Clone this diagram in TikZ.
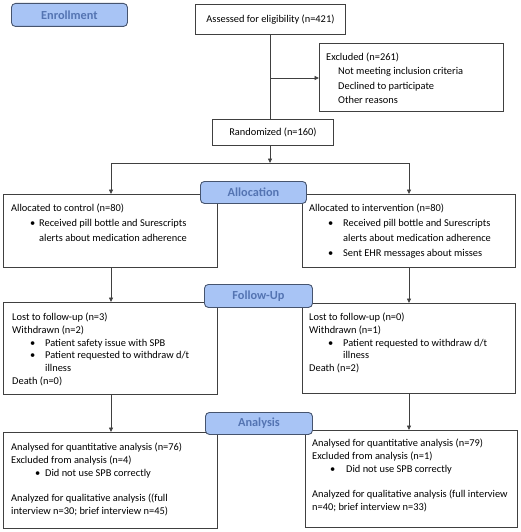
\documentclass[tikz,border=0pt]{standalone}
\usepackage{fontspec}
\setmainfont{Carlito}
\usetikzlibrary{arrows.meta}
\definecolor{lblfill}{RGB}{168,196,245}
\definecolor{lbltext}{RGB}{84,116,178}
\definecolor{lbldraw}{RGB}{70,84,110}
\definecolor{boxdraw}{RGB}{64,64,64}
\newcommand\bl[3]{\hspace*{#1}\makebox[#2][l]{\textbullet}#3}
\tikzset{
  box/.style={draw=boxdraw, line width=0.9pt, fill=white, inner sep=0pt, anchor=north west},
  stagelabel/.style={draw=lbldraw, fill=lblfill, rounded corners=4pt, line width=0.9pt,
    font=\bfseries\fontsize{12.3}{14}\selectfont, text=lbltext, inner sep=0pt, anchor=north west},
  txt/.style={anchor=north west, align=left, inner sep=0pt, font=\fontsize{10.4}{12.8}\selectfont},
  wtxt/.style={txt, font=\fontsize{10.4}{15}\selectfont},
  etxt/.style={txt, font=\fontsize{10.4}{14.3}\selectfont},
  ctxt/.style={inner sep=0pt, font=\fontsize{10.4}{12.8}\selectfont},
  arr/.style={-{Triangle[length=4.5pt,width=4pt]}, draw=boxdraw, line width=0.8pt},
  conn/.style={draw=boxdraw, line width=0.8pt},
}
\begin{document}
\begin{tikzpicture}[x=1pt,y=-1pt]
\useasboundingbox (0,0) rectangle (520,532);

% connectors (drawn first)
\coordinate (j1) at (270,78);
\coordinate (j2) at (270,163);
\coordinate (jl) at (111,163);
\coordinate (jr) at (409,163);

% boxes
\node[box, minimum width=150pt, minimum height=30pt] (assess) at (195,4) {};
\node[box, minimum width=184pt, minimum height=68pt] (excl) at (319,43) {};
\node[box, minimum width=121pt, minimum height=26pt] (rand) at (212,119) {};
\node[box, minimum width=214pt, minimum height=73pt] (calloc) at (3,194) {};
\node[box, minimum width=213pt, minimum height=73pt] (ialloc) at (302,194) {};
\node[box, minimum width=214pt, minimum height=92pt] (cfu) at (3,302) {};
\node[box, minimum width=213pt, minimum height=90pt] (ifu) at (302,303) {};
\node[box, minimum width=214pt, minimum height=96pt] (cana) at (3,432) {};
\node[box, minimum width=212pt, minimum height=97pt] (iana) at (305,430) {};

\draw[conn] (assess.south -| j1) -- (rand.north -| j1);
\draw[arr] (j1) -- (excl.west |- j1);
\draw[arr] (rand.south -| j2) -- (j2);
\draw[conn] (jl) -- (jr);
\draw[arr] (jl) -- (calloc.north -| jl);
\draw[arr] (jr) -- (ialloc.north -| jr);
\draw[arr] (calloc.south -| jl) -- (cfu.north -| jl);
\draw[arr] (ialloc.south -| jr) -- (ifu.north -| jr);
\draw[arr] (cfu.south -| jl) -- (cana.north -| jl);
\draw[arr] (ifu.south -| jr) -- (iana.north -| jr);

% stage labels
\node[stagelabel, minimum width=116pt, minimum height=23pt] (lenr) at (11,3) {Enrollment};
\node[stagelabel, minimum width=106pt, minimum height=22pt] (lalloc) at (200,181) {Allocation};
\node[stagelabel, minimum width=108pt, minimum height=23pt] (lfu) at (204,284) {Follow-Up};
\node[stagelabel, minimum width=107pt, minimum height=22pt] (lana) at (205,412) {Analysis};

% texts
\node[ctxt] (tassess) at (assess.center) {Assessed for eligibility (n=421)};
\node[ctxt] (trand) at (rand.center) {Randomized (n=160)};
\node[etxt] (texcl) at (326,52.7) {Excluded (n=261)\\
  \hspace*{12pt}Not meeting inclusion criteria\\
  \hspace*{12pt}Declined to participate\\
  \hspace*{12pt}Other reasons};
\node[wtxt] (tcalloc) at (11,203.7) {Allocated to control (n=80)\\
  \bl{19pt}{9pt}{Received pill bottle and Surescripts}\\
  \hspace*{28pt}alerts about medication adherence};
\node[wtxt] (tialloc) at (309,203.7) {Allocated to intervention (n=80)\\
  \bl{19pt}{15pt}{Received pill bottle and Surescripts}\\
  \hspace*{34pt}alerts about medication adherence\\
  \bl{19pt}{15pt}{Sent EHR messages about misses}};
\node[txt] (tcfu) at (12,312.7) {Lost to follow-up (n=3)\\
  Withdrawn (n=2)\\
  \bl{18pt}{15pt}{Patient safety issue with SPB}\\
  \bl{18pt}{15pt}{Patient requested to withdraw d/t}\\
  \hspace*{33pt}illness\\
  Death (n=0)};
\node[txt] (tifu) at (309,312.7) {Lost to follow-up (n=0)\\
  Withdrawn (n=1)\\
  \bl{19pt}{15pt}{Patient requested to withdraw d/t}\\
  \hspace*{34pt}illness\\
  Death (n=2)};
\node[txt] (tcana) at (11,442.7) {Analysed for quantitative analysis (n=76)\\
  Excluded from analysis (n=4)\\
  \bl{24pt}{10pt}{Did not use SPB correctly}\\[12.8pt]
  Analyzed for qualitative analysis ((full\\
  interview n=30; brief interview n=45)};
\node[txt] (tiana) at (312,438.7) {Analysed for quantitative analysis (n=79)\\
  Excluded from analysis (n=1)\\
  \bl{18pt}{16pt}{Did not use SPB correctly}\\[12.8pt]
  Analyzed for qualitative analysis (full interview\\
  n=40; brief interview n=33)};
\end{tikzpicture}
\end{document}
